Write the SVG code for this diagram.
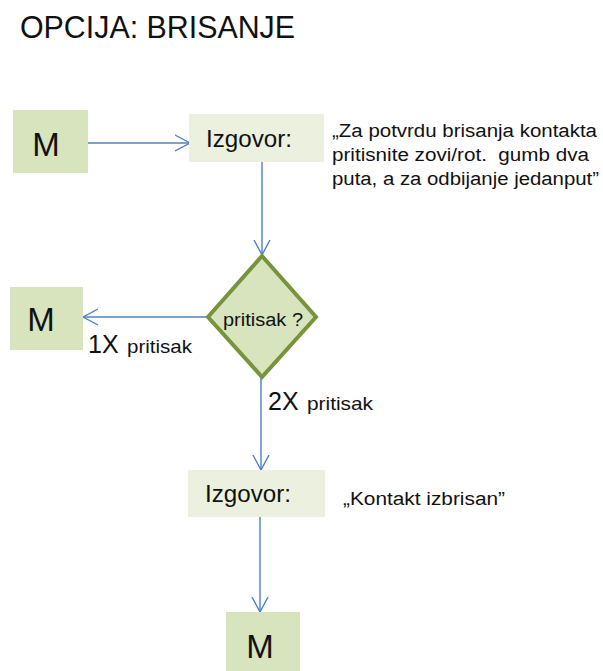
<svg xmlns="http://www.w3.org/2000/svg" width="603" height="671" viewBox="0 0 603 671">
<style>
text{font-family:"Liberation Sans",Arial,sans-serif;fill:#111}
.m{fill:#d7e4bd}
.say{fill:#ebf1de}
.big{font-size:33px}
.izg{font-size:24px}
.q{font-size:18px}
.lbl{font-size:25px}
.sm{font-size:19px}
.conn{stroke:#4f81bd;stroke-width:1.4;fill:none}
</style>
<defs>
<marker id="ah" markerUnits="userSpaceOnUse" viewBox="0 0 16 18" refX="15" refY="9" markerWidth="16" markerHeight="18" orient="auto">
<path d="M0,1 L15,9 L0,17" fill="none" stroke="#4f81bd" stroke-width="1.4"/>
</marker>
</defs>
<rect width="603" height="671" fill="#fff"/>
<text x="20" y="38" style="font-size:31px" textLength="275" lengthAdjust="spacingAndGlyphs">OPCIJA: BRISANJE</text>

<g id="connectors">
<line class="conn" x1="88" y1="143" x2="190" y2="143" marker-end="url(#ah)"/>
<line class="conn" x1="262" y1="162" x2="262" y2="255" marker-end="url(#ah)"/>
<line class="conn" x1="207" y1="317" x2="83" y2="317" marker-end="url(#ah)"/>
<line class="conn" x1="261" y1="378" x2="261" y2="470" marker-end="url(#ah)"/>
<line class="conn" x1="260" y1="517" x2="260" y2="612" marker-end="url(#ah)"/>
</g>

<g id="m1">
<rect class="m" x="13" y="110" width="75" height="63"/>
<text class="big" x="46" y="156" text-anchor="middle">M</text>
</g>

<g id="izgovor1">
<rect class="say" x="189" y="114" width="135" height="48"/>
<text class="izg" x="206" y="147" textLength="86" lengthAdjust="spacingAndGlyphs">Izgovor:</text>
</g>

<g id="quote1">
<text class="q" x="332" y="137" textLength="265" lengthAdjust="spacingAndGlyphs">„Za potvrdu brisanja kontakta</text>
<text class="q" x="332" y="161" textLength="257" lengthAdjust="spacingAndGlyphs" style="white-space:pre">pritisnite zovi/rot.  gumb dva</text>
<text class="q" x="332" y="185" textLength="267" lengthAdjust="spacingAndGlyphs">puta, a za odbijanje jedanput”</text>
</g>

<g id="decision">
<polygon points="262,256 316,317 262,377 208,317" fill="#d7e4bd" stroke="#77933c" stroke-width="4" stroke-linejoin="miter"/>
<text x="223" y="326" style="font-size:18px" textLength="80" lengthAdjust="spacingAndGlyphs">pritisak ?</text>
</g>

<g id="m2">
<rect class="m" x="10" y="287" width="73" height="63"/>
<text class="big" x="41" y="331" text-anchor="middle">M</text>
</g>

<g id="label1">
<text class="lbl" x="88" y="353">1X</text>
<text class="sm" x="127" y="353" textLength="65" lengthAdjust="spacingAndGlyphs">pritisak</text>
</g>

<g id="label2">
<text class="lbl" x="268" y="410">2X</text>
<text class="sm" x="307" y="410" textLength="66" lengthAdjust="spacingAndGlyphs">pritisak</text>
</g>

<g id="izgovor2">
<rect class="say" x="188" y="470" width="137" height="47"/>
<text class="izg" x="205" y="502" textLength="86" lengthAdjust="spacingAndGlyphs">Izgovor:</text>
</g>

<g id="quote2">
<text class="q" x="343" y="505" textLength="162" lengthAdjust="spacingAndGlyphs">„Kontakt izbrisan”</text>
</g>

<g id="m3">
<rect class="m" x="226" y="612" width="74" height="63"/>
<text class="big" x="260" y="658" text-anchor="middle">M</text>
</g>
</svg>
